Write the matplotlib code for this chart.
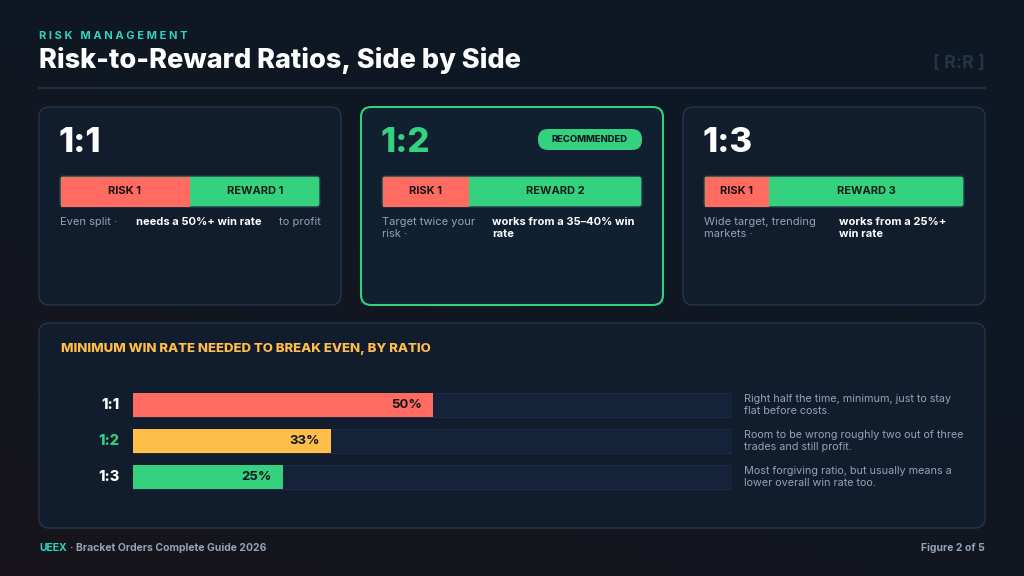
import matplotlib
matplotlib.use("Agg")
import matplotlib.pyplot as plt
import numpy as np
from matplotlib.patches import FancyBboxPatch, Rectangle

plt.rcParams['font.family'] = ['Inter', 'DejaVu Sans']

# ---- data ----
ratios = ["1:1", "1:2", "1:3"]
risk_parts = [1, 1, 1]
reward_parts = [1, 2, 3]
win_rates = [50, 33, 25]
bar_colors = ["#ff6b61", "#ffbd4a", "#34d17e"]
label_colors = ["#ffffff", "#34d17e", "#ffffff"]
notes = ["Right half the time, minimum, just to stay\nflat before costs.",
         "Room to be wrong roughly two out of three\ntrades and still profit.",
         "Most forgiving ratio, but usually means a\nlower overall win rate too."]
card_desc_a = ["Even split ·", "Target twice your\nrisk ·", "Wide target, trending\nmarkets ·"]
card_desc_b = ["needs a 50%+ win rate", "works from a 35–40% win\nrate", "works from a 25%+\nwin rate"]
card_desc_c = ["to profit", "", ""]

RED = "#ff6b61"; GREEN = "#34d17e"; TEAL = "#2dd4bf"; GRAY = "#93a3b8"

fig = plt.figure(figsize=(10.24, 5.76), dpi=100)
bg = fig.add_axes([0, 0, 1, 1])
bg.set_xlim(0, 1024); bg.set_ylim(576, 0); bg.axis("off")
yy, xx = np.mgrid[0:576:4, 0:1024:4]
t = np.clip((yy / 576) * 0.6 + (1 - xx / 1024) * 0.4 - 0.3, 0, 1)
top = np.array([0x0e, 0x18, 0x24]) / 255
bot = np.array([0x1c, 0x14, 0x18]) / 255
img = top[None, None, :] * (1 - t[..., None]) + bot[None, None, :] * t[..., None]
bg.imshow(img, extent=[0, 1024, 576, 0], aspect="auto", zorder=0)

# header
bg.text(39, 36, "R I S K   M A N A G E M E N T", color=TEAL, fontsize=8, fontweight="bold", va="center")
bg.text(39, 61, "Risk-to-Reward Ratios, Side by Side", color="white", fontsize=19.5, fontweight="heavy", va="center")
bg.text(985, 64, "[ R:R ]", color="#243447", fontsize=13, fontweight="bold", va="center", ha="right")
bg.plot([39, 985], [88, 88], color="#243447", lw=1.2)

def rbox(x0, y0, x1, y1, fc, ec, lw=1.0, r=10, z=1):
    p = FancyBboxPatch((x0, y0), x1 - x0, y1 - y0, boxstyle=f"round,pad=0,rounding_size={r}",
                       fc=fc, ec=ec, lw=lw, zorder=z)
    bg.add_patch(p)

card_x = [39, 361, 683]
for i in range(3):
    x0 = card_x[i]; x1 = x0 + 302
    rec = i == 1
    rbox(x0, 107, x1, 305, "#112030" if rec else "#111c2d", "#34d17e" if rec else "#26364a", lw=1.5 if rec else 1.0)
    bg.text(x0 + 20, 143, ratios[i], color=GREEN if rec else "white", fontsize=25, fontweight="heavy", va="center")
    if rec:
        rbox(538, 129, 642, 150, GREEN, "none", r=10, z=2)
        bg.text(590, 139.5, "RECOMMENDED", color="#0e1a24", fontsize=6.8, fontweight="heavy", ha="center", va="center", zorder=3)
    bx0 = x0 + 21; bx1 = x1 - 21; bw = bx1 - bx0
    tot = risk_parts[i] + reward_parts[i]
    rx = bx0 + bw * risk_parts[i] / tot
    rbox(bx0, 176, bx1, 207, GREEN, "#26364a", r=3, z=2)
    bg.add_patch(Rectangle((bx0 + 1, 176.5), rx - bx0 - 1, 30, fc=RED, ec="none", zorder=3))
    bg.text((bx0 + rx) / 2, 191.5, f"RISK {risk_parts[i]}", color="#1a0f12", fontsize=8, fontweight="bold", ha="center", va="center", zorder=4)
    bg.text((rx + bx1) / 2, 191.5, f"REWARD {reward_parts[i]}", color="#0e1f16", fontsize=8, fontweight="bold", ha="center", va="center", zorder=4)
    ty = 217
    bg.text(bx0, ty, card_desc_a[i], color=GRAY, fontsize=8, va="top", linespacing=1.25)
    bx_b = [136, 492, 839][i]
    bg.text(bx_b, ty, card_desc_b[i], color="white", fontsize=8, fontweight="bold", va="top", linespacing=1.25)
    if card_desc_c[i]:
        bg.text(bx1 + 1, ty, card_desc_c[i], color=GRAY, fontsize=8, va="top", ha="right")

# bottom panel
rbox(39, 323, 985, 528, "#111c2d", "#26364a")
bg.text(61, 349, "MINIMUM WIN RATE NEEDED TO BREAK EVEN, BY RATIO", color="#ffbd4a", fontsize=9.5, fontweight="heavy", va="center")

# footer
bg.text(39, 548, "UEEX", color=TEAL, fontsize=7.5, fontweight="bold", va="center")
bg.text(70, 548, "· Bracket Orders Complete Guide 2026", color=GRAY, fontsize=7.5, fontweight="bold", va="center")
bg.text(985, 548, "Figure 2 of 5", color=GRAY, fontsize=7.5, fontweight="bold", va="center", ha="right")

# bar chart
ax = fig.add_axes([133 / 1024, 1 - 495 / 576, 599 / 1024, 108 / 576])
ax.set_xlim(0, 100); ax.set_ylim(2.5, -0.5); ax.axis("off")
ypos = np.arange(len(ratios))
ax.barh(ypos, [100] * 3, height=0.69, color="#15233a", edgecolor="#1d2c40", lw=0.8)
ax.barh(ypos, win_rates, height=0.69, color=bar_colors)
for i, (v, r) in enumerate(zip(win_rates, ratios)):
    ax.text(v - 1.8, i, f"{v}%", color="#111820", fontsize=9.5, fontweight="bold", ha="right", va="center")
    ax.text(-2.3, i, r, color=label_colors[i], fontsize=10.5, fontweight="heavy", ha="right", va="center", clip_on=False)
    ax.text(102, i, notes[i], color=GRAY, fontsize=7.8, ha="left", va="center", linespacing=1.3, clip_on=False)

fig.savefig("out.png", dpi=100, facecolor="#0e1824")
